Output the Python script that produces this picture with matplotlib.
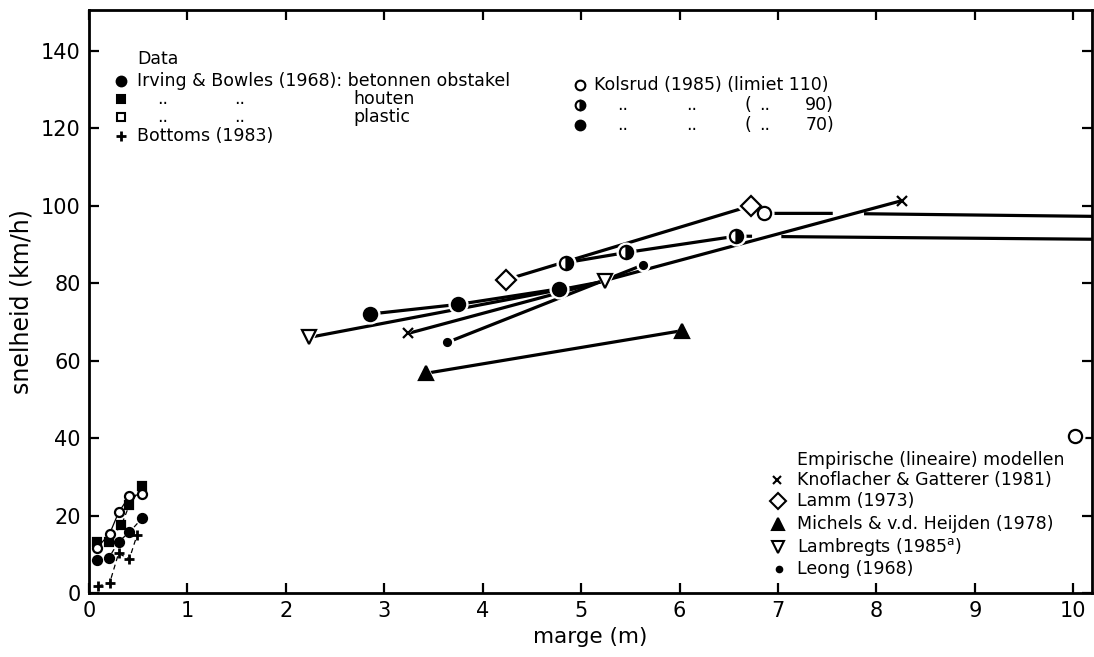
import numpy as np
import matplotlib
matplotlib.use("Agg")
import matplotlib.pyplot as plt

plt.rcParams['font.family'] = ['DejaVu Sans']

# Irving & Bowles (1968) and Bottoms (1983): small margins
beton_x = [0.08, 0.20, 0.30, 0.41, 0.54]
beton_v = [8.4, 9.0, 13.2, 15.7, 19.3]
hout_x = [0.08, 0.20, 0.33, 0.41, 0.54]
hout_v = [13.2, 13.2, 17.6, 22.7, 27.6]
plastic_x = [0.08, 0.21, 0.30, 0.41, 0.54]
plastic_v = [11.6, 15.3, 20.8, 25.0, 25.5]
bottoms_x = [0.09, 0.21, 0.30, 0.41, 0.49]
bottoms_v = [1.8, 2.6, 10.2, 8.8, 15.1]

# Kolsrud (1985), three speed limits
k70_x = [2.85, 3.75, 4.77]
k70_v = [72.0, 74.5, 78.5]
k90_x = [4.85, 5.46, 6.57]
k90_v = [85.3, 87.9, 92.1]
k90_tail_x = [6.57, 6.72, np.nan, 7.05, 10.3]
k90_tail_v = [92.1, 92.1, np.nan, 92.0, 91.3]
k110_x = [6.86, 10.02]
k110_v = [98.1, 40.5]
k110_tail_x = [6.86, 7.54, np.nan, 7.89, 10.3]
k110_tail_v = [98.0, 98.0, np.nan, 97.9, 97.2]

# empirical (linear) models, end points
knof_x = [3.24, 8.26]
knof_v = [67.0, 101.3]
lamm_x = [4.24, 6.73]
lamm_v = [80.9, 100.0]
mich_x = [3.42, 6.02]
mich_v = [56.7, 67.7]
lamb_x = [2.24, 5.24]
lamb_v = [66.0, 80.5]
leong_x = [3.64, 5.63]
leong_v = [64.7, 84.7]

x_ticks = list(range(0, 11))
y_ticks = list(range(0, 141, 20))

W, H = 1094, 657
fig = plt.figure(figsize=(W/100, H/100), dpi=100)
ax = fig.add_axes([89/W, 64/H, 1003/W, 583/H])
ax.set_xlim(0, 10.19)
ax.set_ylim(0, 150.5)

def fx(px): return px/W
def fy(py): return 1-py/H

def mk(x, y, m, ms, fc='black', halo=True, ew=1.6):
    if halo:
        ax.plot(x, y, ls='none', marker=m, ms=ms+4, mfc='white', mec='white', zorder=3)
    ax.plot(x, y, ls='none', marker=m, ms=ms, mfc=fc, mec='black', mew=ew, zorder=4)

# small-margin series
ax.plot(beton_x, beton_v, 'k--', lw=0.9, dashes=(4, 3), zorder=2)
ax.plot(hout_x, hout_v, 'k--', lw=0.9, dashes=(4, 3), zorder=2)
ax.plot(plastic_x, plastic_v, 'k-', lw=0.9, zorder=2)
ax.plot(bottoms_x, bottoms_v, 'k--', lw=0.9, dashes=(4, 3), zorder=2)
mk(beton_x, beton_v, 'o', 6.5, halo=False)
mk(hout_x, hout_v, 's', 5.5, halo=False)
mk(plastic_x, plastic_v, 'o', 6.5, fc='white', halo=False)
mk(bottoms_x, bottoms_v, '+', 7.5, halo=False, ew=2)

# model lines
lw = 2.3
for xs, vs in [(knof_x, knof_v), (lamm_x, lamm_v), (mich_x, mich_v),
               (lamb_x, lamb_v), (leong_x, leong_v)]:
    ax.plot(xs, vs, 'k-', lw=lw, solid_capstyle='butt', zorder=2)
ax.plot(k70_x, k70_v, 'k-', lw=lw, zorder=2)
ax.plot(k90_x, k90_v, 'k-', lw=lw, zorder=2)
ax.plot(k90_tail_x, k90_tail_v, 'k-', lw=lw, zorder=2)
ax.plot(k110_tail_x, k110_tail_v, 'k-', lw=lw, zorder=2)

mk(knof_x, knof_v, 'x', 7)
mk(lamm_x, lamm_v, 'D', 10, fc='white')
mk(mich_x, mich_v, '^', 9.5)
mk(lamb_x, lamb_v, 'v', 9.5, fc='white')
mk(leong_x, leong_v, 'o', 5)
mk(k70_x, k70_v, 'o', 9.5)
ax.plot(k90_x, k90_v, ls='none', marker='o', ms=13.5, mfc='white', mec='white', zorder=3)
ax.plot(k90_x, k90_v, ls='none', marker='o', ms=9.5, fillstyle='right', mfc='black',
        mfcalt='white', mec='black', mew=1.6, zorder=4)
mk(k110_x, k110_v, 'o', 9.5, fc='white')

# axes styling
ax.set_xticks(x_ticks)
ax.set_yticks(y_ticks)
ax.tick_params(direction='in', length=7, width=1.6, top=True, right=True,
               labeltop=False, labelright=False, labelsize=15, pad=6)
for s in ax.spines.values():
    s.set_linewidth(2.0)
ax.set_xlabel("marge (m)", fontsize=15.5, labelpad=4)
ax.set_ylabel("snelheid (km/h)", fontsize=17, labelpad=5)

# legend blocks drawn as text
fs = 12.5
def leg_marker(px, py, m, ms, fc='black', ew=1.5):
    ax.plot([fx(px)], [fy(py)], transform=fig.transFigure, clip_on=False, ls='none',
            marker=m, ms=ms, mfc=fc, mec='black', mew=ew)

def txt(px, py, s, ha='left'):
    fig.text(fx(px), fy(py), s, fontsize=fs, ha=ha, va='center')

txt(137, 59, "Data")
leg_marker(121, 81, 'o', 7)
txt(137, 81, "Irving & Bowles (1968): betonnen obstakel")
leg_marker(121, 99, 's', 6)
txt(163, 99, "..", ha='center')
txt(240, 99, "..", ha='center')
txt(353, 99, "houten")
leg_marker(121, 117, 's', 6, fc='white')
txt(163, 117, "..", ha='center')
txt(240, 117, "..", ha='center')
txt(353, 117, "plastic")
leg_marker(121, 136, '+', 7.5, ew=2)
txt(137, 136, "Bottoms (1983)")

leg_marker(580, 85, 'o', 7, fc='white')
txt(594, 85, "Kolsrud (1985) (limiet 110)")
ax.plot([fx(580)], [fy(105)], transform=fig.transFigure, clip_on=False, ls='none',
        marker='o', ms=7, fillstyle='right', mfc='black', mfcalt='white', mec='black', mew=1.5)
txt(623, 105, "..", ha='center')
txt(692, 105, "..", ha='center')
txt(745, 105, "(")
txt(765, 105, "..", ha='center')
txt(834, 105, "90)", ha='right')
leg_marker(580, 125, 'o', 7)
txt(623, 125, "..", ha='center')
txt(692, 125, "..", ha='center')
txt(745, 125, "(")
txt(765, 125, "..", ha='center')
txt(834, 125, "70)", ha='right')

txt(797, 460, "Empirische (lineaire) modellen")
leg_marker(777, 480, 'x', 6)
txt(797, 480, "Knoflacher & Gatterer (1981)")
leg_marker(778, 501, 'D', 8.5, fc='white')
txt(797, 501, "Lamm (1973)")
leg_marker(778, 524, '^', 8)
txt(797, 524, "Michels & v.d. Heijden (1978)")
leg_marker(778, 547, 'v', 8, fc='white')
txt(797, 547, "Lambregts (1985$^{\\mathrm{a}}$)")
leg_marker(779, 569, 'o', 4)
txt(797, 569, "Leong (1968)")

fig.savefig("out.png", dpi=100)
